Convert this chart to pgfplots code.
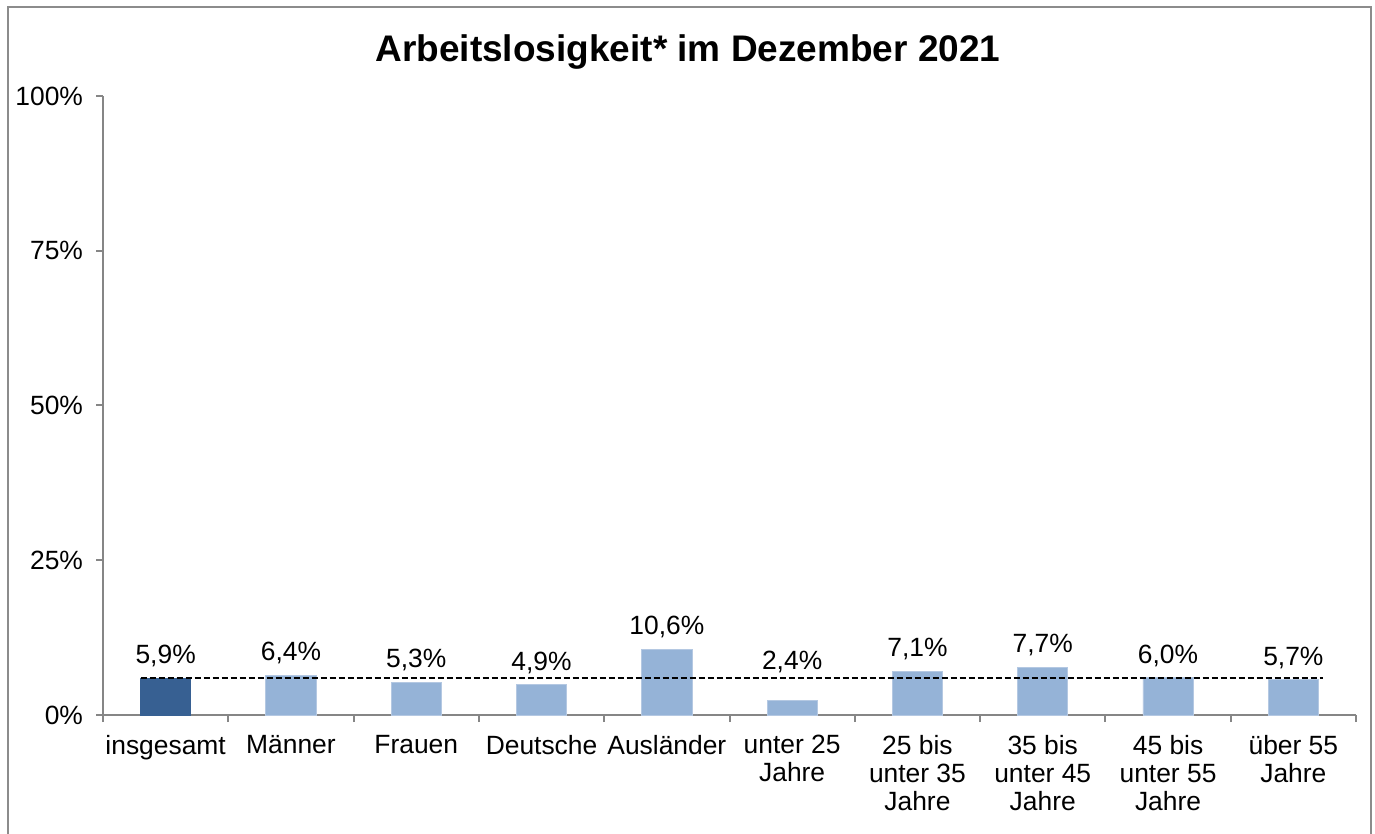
\documentclass[border=0pt]{standalone}
\usepackage{fontspec}
\setmainfont{Liberation Sans}
\usepackage{pgfplots}
\pgfplotsset{compat=1.18}
\definecolor{darkbar}{HTML}{376092}
\definecolor{lightbar}{HTML}{95B3D7}
\definecolor{lightedge}{HTML}{B4C8E2}
\definecolor{axgray}{HTML}{868686}
\definecolor{framegray}{HTML}{8C8C8C}
\pgfplotsset{
  barlabel/.style={
    nodes near coords={\pgfmathprintnumber[fixed,fixed zerofill,precision=1,use comma]{\pgfplotspointmeta}\%},
    every node near coord/.append style={anchor=base, yshift=#1, font=\fontsize{13.2}{14}\selectfont, text=black}},
}
\begin{document}
\begin{tikzpicture}[x=1pt,y=1pt]
\useasboundingbox (0,0) rectangle (687.5,417);
\draw[framegray, line width=1pt] (4,-2) -- (4,413.5) -- (685.5,413.5) -- (685.5,-2);
\node[anchor=base, font=\fontsize{18.5}{22}\selectfont\bfseries] at (344,386) {Arbeitslosigkeit* im Dezember 2021};
\begin{axis}[
  at={(51.5pt,59.5pt)}, anchor=south west,
  width=626.5pt, height=309.5pt, scale only axis,
  xmin=-0.5, xmax=9.5, ymin=0, ymax=100,
  axis x line*=bottom, axis y line*=left,
  axis line style={axgray, line width=1pt},
  tick align=outside,
  major tick length=3.5pt, minor tick length=3.5pt,
  ytick={0,25,50,75,100},
  yticklabels={0\%,25\%,50\%,75\%,100\%},
  major y tick style={axgray, line width=1pt},
  xtick={0,...,9},
  major x tick style={draw=none},
  minor xtick={-0.5,0.5,...,9.5},
  minor x tick style={axgray, line width=1pt},
  xticklabels={insgesamt, Männer, Frauen, Deutsche, Ausländer, {unter 25\\Jahre}, {25 bis\\unter 35\\Jahre}, {35 bis\\unter 45\\Jahre}, {45 bis\\unter 55\\Jahre}, {über 55\\Jahre}},
  ticklabel style={font=\fontsize{13.2}{14}\selectfont},
  xticklabel style={align=center, anchor=north, yshift=-3pt},
  yticklabel style={anchor=east, xshift=-3pt},
  /pgf/number format/assume math mode=true,
  clip=false,
]
\addplot[ybar, bar width=0.4, bar shift=0pt, fill=darkbar, draw=darkbar, barlabel=7.3pt]
  coordinates {(0,5.9)};
\addplot[ybar, bar width=0.4, bar shift=0pt, fill=lightbar, draw=lightedge, barlabel=7.3pt]
  coordinates {(1,6.4) (2,5.3) (3,4.9) (4,10.6) (6,7.1) (7,7.7) (8,6.0) (9,5.7)};
\addplot[ybar, bar width=0.4, bar shift=0pt, fill=lightbar, draw=lightedge, barlabel=15.3pt]
  coordinates {(5,2.4)};
\addplot[black, line width=1pt, dash pattern=on 3pt off 1.5pt] coordinates {(-0.2,5.9) (9.24,5.9)};
\end{axis}
\end{tikzpicture}
\end{document}
